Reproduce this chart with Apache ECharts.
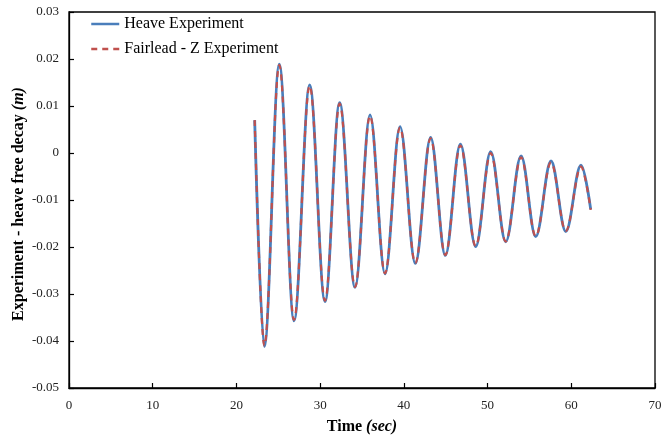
<!DOCTYPE html>
<html>
<head>
<meta charset="utf-8">
<script src="https://cdn.jsdelivr.net/npm/echarts@6/dist/echarts.min.js"></script>
<style>
html,body{margin:0;padding:0;background:#fff;}
#chart{width:665px;height:439px;}
</style>
</head>
<body>
<div id="chart"></div>
<script>
// Time (sec) at start, successive troughs/peaks, end
const timeHeave = [22.18, 23.33, 25.12, 26.88, 28.75, 30.58, 32.33, 34.17, 35.96, 37.75, 39.54, 41.37, 43.20, 44.95, 46.75, 48.58, 50.37, 52.17, 54.00, 55.75, 57.58, 59.34, 61.16, 62.32];
const heave = [0.0070, -0.0412, 0.0189, -0.0357, 0.0145, -0.0316, 0.0107, -0.0286, 0.0081, -0.0257, 0.0056, -0.0235, 0.0033, -0.0218, 0.0019, -0.0199, 0.0003, -0.0189, -0.0006, -0.0178, -0.0017, -0.0167, -0.0026, -0.0120];
const timeFairlead = [22.18, 23.33, 25.12, 26.88, 28.75, 30.58, 32.33, 34.17, 35.96, 37.75, 39.54, 41.37, 43.20, 44.95, 46.75, 48.58, 50.37, 52.17, 54.00, 55.75, 57.58, 59.34, 61.16, 62.32];
const fairlead = [0.0070, -0.0410, 0.0187, -0.0355, 0.0143, -0.0314, 0.0105, -0.0285, 0.0079, -0.0256, 0.0054, -0.0234, 0.0031, -0.0217, 0.0016, -0.0198, 0.0000, -0.0188, -0.0009, -0.0177, -0.0020, -0.0166, -0.0029, -0.0121];
const seriesNames = ['Heave Experiment', 'Fairlead - Z Experiment'];
const xTicks = [0, 70, 10];   // min, max, interval
const yTicks = [-0.05, 0.03, 0.01];

const chart = echarts.init(document.getElementById('chart'), null, {renderer: 'canvas'});
const font = 'Liberation Serif';
chart.setOption({
  animation: false,
  backgroundColor: '#fff',
  grid: {left: 69, right: 10, top: 12, bottom: 51, show: true, borderColor: '#000', borderWidth: 1.3,
         backgroundColor: 'transparent', containLabel: false, outerBoundsMode: 'none'},
  legend: {
    left: 85, top: 11, orient: 'vertical', itemGap: 9, itemWidth: 28, itemHeight: 14,
    itemStyle: {opacity: 0},
    lineStyle: {width: 2.5},
    textStyle: {fontFamily: font, fontSize: 16, color: '#000'},
    data: seriesNames
  },
  xAxis: {
    type: 'value', min: xTicks[0], max: xTicks[1], interval: xTicks[2],
    name: 'Time {i|(sec)}', nameLocation: 'middle', nameGap: 31,
    nameTextStyle: {fontFamily: font, fontSize: 16, fontWeight: 'bold', color: '#000',
      rich: {i: {fontFamily: font, fontSize: 16, fontWeight: 'bold', fontStyle: 'italic', color: '#000'}}},
    axisLine: {onZero: false, lineStyle: {color: '#000', width: 1.3}},
    axisTick: {inside: true, length: 5, lineStyle: {color: '#000', width: 1.2}},
    axisLabel: {fontFamily: font, fontSize: 13, color: '#222', margin: 11},
    splitLine: {show: false}
  },
  yAxis: {
    type: 'value', min: yTicks[0], max: yTicks[1], interval: yTicks[2],
    name: 'Experiment - heave free decay {i|(m)}', nameLocation: 'middle', nameGap: 42,
    nameMoveOverlap: false,
    nameTextStyle: {fontFamily: font, fontSize: 16, fontWeight: 'bold', color: '#000', padding: [0, 8, 0, 0],
      rich: {i: {fontFamily: font, fontSize: 16, fontWeight: 'bold', fontStyle: 'italic', color: '#000'}}},
    axisLine: {onZero: false, lineStyle: {color: '#000', width: 1.3}},
    axisTick: {inside: true, length: 5, lineStyle: {color: '#000', width: 1.2}},
    axisLabel: {fontFamily: font, fontSize: 13, color: '#222', margin: 10,
      formatter: v => Math.abs(v) < 1e-9 ? '0' : v.toFixed(2)},
    splitLine: {show: false}
  },
  series: [
    {name: seriesNames[0], type: 'line', showSymbol: false, symbol: 'none',
     smooth: 0.36, smoothMonotone: 'x',
     data: timeHeave.map((t, i) => [t, heave[i]]),
     lineStyle: {color: '#4A7EBB', width: 2.8}, itemStyle: {color: '#4A7EBB'}},
    {name: seriesNames[1], type: 'line', showSymbol: false, symbol: 'none',
     smooth: 0.36, smoothMonotone: 'x',
     data: timeFairlead.map((t, i) => [t, fairlead[i]]),
     lineStyle: {color: '#C0504D', width: 2.2, type: [6, 5]}, itemStyle: {color: '#C0504D'}}
  ]
});
</script>
</body>
</html>
